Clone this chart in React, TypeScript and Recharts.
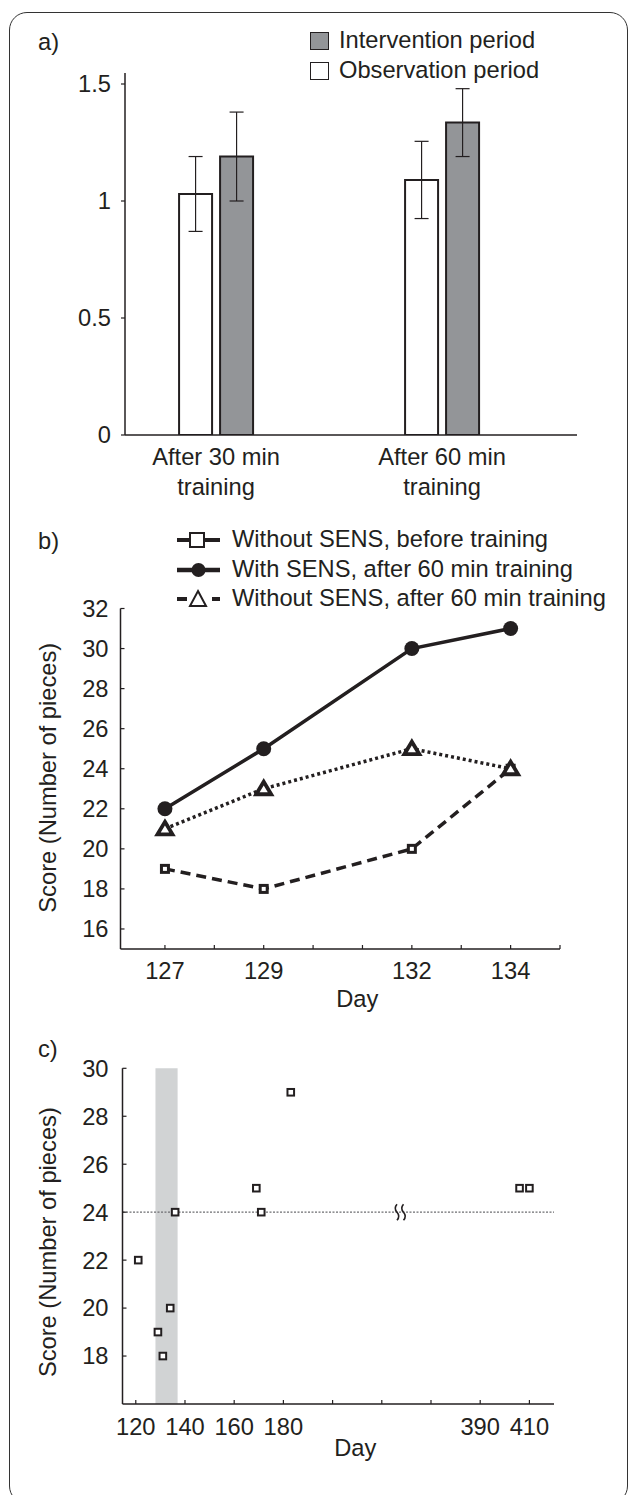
import React from 'react';
import {
  BarChart, Bar, ErrorBar, XAxis, YAxis, Legend,
  LineChart, Line, ScatterChart, Scatter,
  ReferenceArea, ReferenceLine, ReferenceDot,
} from 'recharts';

const INK = '#231f20';
const GRAY = '#939598';
const BAND = '#d1d3d4';
const FONT = '"Liberation Sans", Arial, Helvetica, sans-serif';
const FS = 23.7;

// a) score ratio per training length
const groupsA = [['After 30 min', 'training'], ['After 60 min', 'training']];
const observationA = [1.03, 1.09];
const observationErrA = [0.16, 0.165];
const interventionA = [1.19, 1.335];
const interventionErrA = [0.19, 0.145];
const ticksA = [0, 0.5, 1, 1.5];

// b) scores on the intervention days
const daysB = [127, 129, 132, 134];
const beforeB = [19, 18, 20, 24];
const withSensB = [22, 25, 30, 31];
const withoutSensB = [21, 23, 25, 24];
const dayTicksB = [127, 128, 129, 130, 131, 132, 133, 134, 135];
const scoreTicksB = [16, 18, 20, 22, 24, 26, 28, 30, 32];

// c) long-term follow up
const daysC = [121, 129, 131, 134, 136, 169, 171, 183, 406, 410];
const scoresC = [22, 19, 18, 20, 24, 25, 24, 29, 25, 25];
const dayLabelsC = ['120', '140', '160', '180', '', '', '', '390', '410'];
const scoreTicksC = [18, 20, 22, 24, 26, 28, 30];
const interventionDaysC = [128, 137];
const baselineC = 24;
const BREAK_POS = 5.37;

// broken axis: 120..180 on the left part, 390..410 on the right
const dayToPos = (d: number) => (d < 300 ? (d - 120) / 20 : 7 + (d - 390) / 20);

const rowsA = groupsA.map((g, i) => ({
  pos: i,
  observation: observationA[i],
  observationErr: observationErrA[i],
  intervention: interventionA[i],
  interventionErr: interventionErrA[i],
}));

const rowsB = daysB.map((d, i) => ({
  day: d,
  before: beforeB[i],
  withSens: withSensB[i],
  withoutSens: withoutSensB[i],
}));

const rowsC = daysC.map((d, i) => ({ pos: dayToPos(d), score: scoresC[i] }));

const tickStyle = { fill: INK, fontSize: FS, fontFamily: FONT };
const axisLine = { stroke: INK, strokeWidth: 1.5 };

const TwoLineTick = (props: any) => {
  const { x, y, payload } = props;
  const lines = groupsA[payload.value] || [];
  return (
    <text x={x} y={y} textAnchor="middle" fill={INK} fontSize={FS} fontFamily={FONT}>
      {lines.map((l, i) => (
        <tspan key={i} x={x} y={y + 30 + i * 30}>{l}</tspan>
      ))}
    </text>
  );
};

const CircleDot = (props: any) => {
  const { cx, cy } = props;
  if (cx == null || cy == null) return null;
  return <circle cx={cx} cy={cy} r={7.5} fill={INK} stroke="none" />;
};

const TriangleDot = (props: any) => {
  const { cx, cy } = props;
  if (cx == null || cy == null) return null;
  return (
    <path
      d={`M${cx},${cy - 7} L${cx + 7.5},${cy + 5.5} L${cx - 7.5},${cy + 5.5} Z`}
      fill="#fff" stroke={INK} strokeWidth={3.8} strokeLinejoin="miter"
    />
  );
};

const SquareDot = (props: any) => {
  const { cx, cy } = props;
  if (cx == null || cy == null) return null;
  return <rect x={cx - 3.5} y={cy - 3.5} width={7} height={7} fill="#fff" stroke={INK} strokeWidth={3} />;
};

const SmallSquare = (props: any) => {
  const { cx, cy } = props;
  if (cx == null || cy == null) return null;
  return <rect x={cx - 3.3} y={cy - 3.3} width={6.6} height={6.6} fill="#fff" stroke={INK} strokeWidth={2} />;
};

const BreakMark = (props: any) => {
  const { cx, cy } = props;
  if (cx == null || cy == null) return null;
  const wave = (x: number) => `M${x},${cy - 8} q-3.5,4 0,8 q3.5,4 0,8`;
  return (
    <g fill="none" stroke={INK} strokeWidth={1.6}>
      <path d={wave(cx - 3)} />
      <path d={wave(cx + 3.5)} />
    </g>
  );
};

const legendA = [
  { label: 'Intervention period', fill: GRAY },
  { label: 'Observation period', fill: '#fff' },
];

const LegendA = () => (
  <div style={{ fontFamily: FONT, fontSize: FS, color: INK }}>
    {legendA.map((e) => (
      <div key={e.label} style={{ display: 'flex', alignItems: 'center', height: 29.5, whiteSpace: 'nowrap' }}>
        <div style={{ width: 19, height: 18, boxSizing: 'border-box', border: `1.5px solid ${INK}`, background: e.fill }} />
        <span style={{ marginLeft: 10, lineHeight: '29.5px' }}>{e.label}</span>
      </div>
    ))}
  </div>
);

const legendB = [
  { label: 'Without SENS, before training', kind: 'square' },
  { label: 'With SENS, after 60 min training', kind: 'circle' },
  { label: 'Without SENS, after 60 min training', kind: 'triangle' },
];

const LegendIcon = ({ kind }: { kind: string }) => (
  <svg width={43} height={29.5} style={{ display: 'block' }}>
    {kind === 'square' && (
      <g>
        <line x1={0} x2={43} y1={15} y2={15} stroke={INK} strokeWidth={4} />
        <rect x={13} y={8} width={14} height={14} fill="#fff" stroke={INK} strokeWidth={2} />
      </g>
    )}
    {kind === 'circle' && (
      <g>
        <line x1={0} x2={43} y1={15} y2={15} stroke={INK} strokeWidth={4.5} />
        <circle cx={21.5} cy={15} r={7} fill={INK} />
      </g>
    )}
    {kind === 'triangle' && (
      <g>
        <line x1={0} x2={10} y1={15} y2={15} stroke={INK} strokeWidth={4} />
        <line x1={35} x2={43} y1={15} y2={15} stroke={INK} strokeWidth={4} />
        <path d="M21,7 L29,22 L13,22 Z" fill="#fff" stroke={INK} strokeWidth={2} />
      </g>
    )}
  </svg>
);

const LegendB = () => (
  <div style={{ fontFamily: FONT, fontSize: FS, color: INK }}>
    {legendB.map((e) => (
      <div key={e.label} style={{ display: 'flex', alignItems: 'center', height: 29.5, whiteSpace: 'nowrap' }}>
        <LegendIcon kind={e.kind} />
        <span style={{ marginLeft: 12, lineHeight: '29.5px' }}>{e.label}</span>
      </div>
    ))}
  </div>
);

const panelLetter = (text: string, top: number) => (
  <div style={{
    position: 'absolute', left: 38, top, fontFamily: FONT, fontSize: FS, color: INK, lineHeight: '24px',
  }}>{text}</div>
);

export default function App() {
  return (
    <div style={{ position: 'absolute', left: 0, top: 0, width: 629, height: 1495, overflow: 'hidden', background: '#fff', fontFamily: FONT }}>
      <div style={{
        position: 'absolute', left: 9, top: 12, width: 619, height: 1492, boxSizing: 'border-box',
        border: '1.5px solid #333', borderRadius: 18,
      }} />

      {panelLetter('a)', 30)}
      {panelLetter('b)', 529)}
      {panelLetter('c)', 1037)}

      <div style={{ position: 'absolute', left: 0, top: 0 }}>
        <BarChart width={629} height={510} data={rowsA} barGap={8}
          margin={{ top: 73, right: 52, bottom: 5, left: 65 }}>
          <XAxis dataKey="pos" type="number" domain={[-0.403, 1.597]} ticks={[0, 1]}
            allowDataOverflow height={70} axisLine={axisLine} tickLine={false}
            tickSize={0} tickMargin={0} tick={<TwoLineTick />} />
          <YAxis type="number" domain={[0, 1.547]} ticks={ticksA} allowDataOverflow width={60}
            axisLine={axisLine} tickLine={{ stroke: INK, strokeWidth: 1.2 }} tickSize={4}
            tickMargin={10} tick={tickStyle} />
          <Legend layout="horizontal" verticalAlign="middle" align="center"
            wrapperStyle={{ left: 310, top: 26.25, width: 300, height: 60 }} content={() => <LegendA />} />
          <Bar dataKey="observation" fill="#fff" stroke={INK} strokeWidth={2} barSize={33} isAnimationActive={false}>
            <ErrorBar dataKey="observationErr" width={7} stroke={INK} strokeWidth={1.2} direction="y" />
          </Bar>
          <Bar dataKey="intervention" fill={GRAY} stroke={INK} strokeWidth={2} barSize={33} isAnimationActive={false}>
            <ErrorBar dataKey="interventionErr" width={7} stroke={INK} strokeWidth={1.2} direction="y" />
          </Bar>
        </BarChart>
      </div>

      <div style={{ position: 'absolute', left: 0, top: 510 }}>
        <LineChart width={629} height={520} data={rowsB}
          margin={{ top: 98.5, right: 69, bottom: 5, left: 60.5 }}>
          <XAxis dataKey="day" type="number" domain={[126.1, 135]} ticks={dayTicksB} allowDataOverflow
            height={76} axisLine={axisLine} tickLine={{ stroke: INK, strokeWidth: 1.2 }} tickSize={-4}
            tickMargin={16.8} tick={tickStyle}
            tickFormatter={(d: number) => (daysB.includes(d) ? String(d) : '')}
            label={{ value: 'Day', position: 'insideTop', offset: 41, dx: 17, fill: INK, fontSize: FS, fontFamily: FONT }} />
          <YAxis type="number" domain={[15, 32]} ticks={scoreTicksB} allowDataOverflow width={60}
            axisLine={axisLine} tickLine={{ stroke: INK, strokeWidth: 1.2 }} tickSize={-4}
            tickMargin={16} tick={tickStyle}
            label={{ value: 'Score (Number of pieces)', angle: -90, position: 'center', dx: -42.5, dy: -1, fill: INK, fontSize: FS, fontFamily: FONT }} />
          <Legend layout="horizontal" verticalAlign="middle" align="center"
            wrapperStyle={{ left: 177, top: 15.25, width: 450, height: 90 }} content={() => <LegendB />} />
          <Line dataKey="before" stroke={INK} strokeWidth={3.5} strokeDasharray="10 6"
            dot={<SquareDot />} activeDot={false} isAnimationActive={false} />
          <Line dataKey="withoutSens" stroke={INK} strokeWidth={3.5} strokeDasharray="3 3"
            dot={<TriangleDot />} activeDot={false} isAnimationActive={false} />
          <Line dataKey="withSens" stroke={INK} strokeWidth={3.5}
            dot={<CircleDot />} activeDot={false} isAnimationActive={false} />
        </LineChart>
      </div>

      <div style={{ position: 'absolute', left: 0, top: 1010 }}>
        <ScatterChart width={629} height={485}
          margin={{ top: 58.3, right: 75, bottom: 5, left: 62.5 }}>
          <XAxis dataKey="pos" type="number" domain={[-0.27, 8.5]} ticks={[0, 1, 2, 3, 4, 5, 6, 7, 8]}
            allowDataOverflow height={86} axisLine={axisLine} tickLine={{ stroke: INK, strokeWidth: 1.2 }}
            tickSize={-4} tickMargin={17.8} tick={tickStyle}
            tickFormatter={(i: number) => dayLabelsC[i] ?? ''}
            label={{ value: 'Day', position: 'insideTop', offset: 35, dx: 17, fill: INK, fontSize: FS, fontFamily: FONT }} />
          <YAxis dataKey="score" type="number" domain={[16, 30]} ticks={scoreTicksC} allowDataOverflow width={60}
            axisLine={axisLine} tickLine={{ stroke: INK, strokeWidth: 1.2 }} tickSize={-4}
            tickMargin={18} tick={tickStyle}
            label={{ value: 'Score (Number of pieces)', angle: -90, position: 'center', dx: -44.5, dy: 6, fill: INK, fontSize: FS, fontFamily: FONT }} />
          <ReferenceArea x1={dayToPos(interventionDaysC[0])} x2={dayToPos(interventionDaysC[1])}
            y1={16} y2={30} fill={BAND} fillOpacity={1} stroke="none" />
          <ReferenceLine y={baselineC} stroke="#6d6e71" strokeWidth={1.2} strokeDasharray="2 1.5" />
          <ReferenceDot x={BREAK_POS} y={baselineC} r={0} shape={<BreakMark />} />
          <Scatter data={rowsC} shape={<SmallSquare />} isAnimationActive={false} />
        </ScatterChart>
      </div>
    </div>
  );
}
